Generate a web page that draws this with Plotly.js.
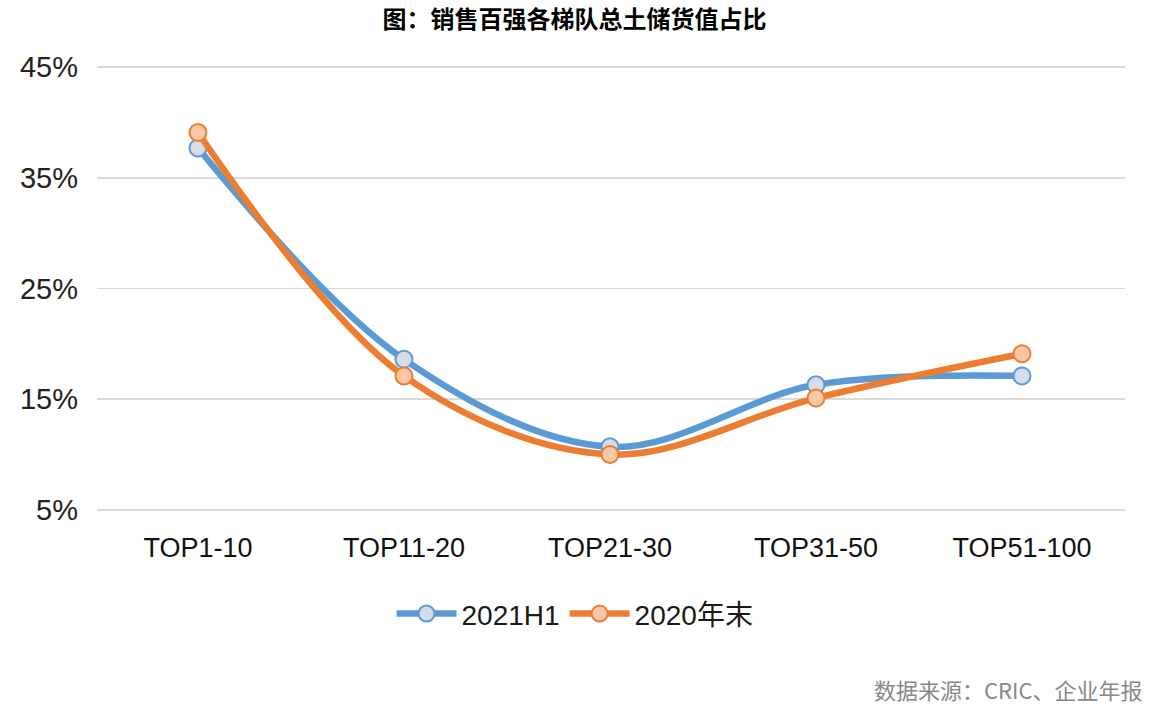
<!DOCTYPE html>
<html>
<head>
<meta charset="utf-8">
<script src="https://cdn.plot.ly/plotly-3.0.1.min.js"></script>
<style>html,body{margin:0;padding:0;background:#fff;}#chart{width:1149px;height:705px;}</style>
</head>
<body>
<div id="chart"></div>
<script>
const categories = ["TOP1-10", "TOP11-20", "TOP21-30", "TOP31-50", "TOP51-100"];
const series2021H1 = [37.7, 18.6, 10.7, 16.3, 17.1];
const series2020End = [39.1, 17.1, 10.0, 15.1, 19.1];
const yTickValues = [5, 15, 25, 35, 45];
const yTickLabels = ["5%", "15%", "25%", "35%", "45%"];

const traces = [
  {
    x: categories, y: series2021H1, name: "2021H1", type: "scatter", mode: "lines+markers",
    line: {color: "#5B9BD5", width: 6.5, shape: "spline", smoothing: 1},
    marker: {size: 17, color: "#D5DDEA", line: {color: "#5B9BD5", width: 2}}
  },
  {
    x: categories, y: series2020End, name: "2020年末", type: "scatter", mode: "lines+markers",
    line: {color: "#ED7D31", width: 6.5, shape: "spline", smoothing: 1},
    marker: {size: 17, color: "#F8C7A6", line: {color: "#ED7D31", width: 2}}
  }
];

const layout = {
  width: 1149, height: 705,
  margin: {l: 97, r: 24, t: 65, b: 193},
  paper_bgcolor: "#ffffff", plot_bgcolor: "#ffffff",
  title: {text: "<b>图：销售百强各梯队总土储货值占比</b>", x: 0.5, xanchor: "center", y: 0.972, yanchor: "middle",
    font: {family: "Noto Sans CJK SC, sans-serif", size: 24, color: "#000"}},
  showlegend: true,
  legend: {orientation: "h", x: 0.465, xanchor: "center", y: -0.172, yanchor: "top",
    font: {family: "Liberation Sans, Arial, Noto Sans CJK SC, sans-serif", size: 28, color: "#1a1a1a"},
    itemwidth: 60, tracegroupgap: 0},
  xaxis: {
    type: "category", range: [-0.49, 4.5], showgrid: false, zeroline: false,
    showline: false, ticks: "", ticklabelstandoff: 17,
    tickfont: {family: "Liberation Sans, Arial, sans-serif", size: 27, color: "#111"}
  },
  yaxis: {
    range: [4.8, 45.2], tickvals: yTickValues, ticktext: yTickLabels,
    showgrid: true, gridcolor: "#D9D9D9", gridwidth: 1.5, zeroline: false, showline: false, ticks: "",
    ticklabelstandoff: 18,
    tickfont: {family: "Liberation Sans, Arial, sans-serif", size: 29, color: "#222"}
  },
  annotations: [{
    text: "数据来源：CRIC、企业年报", xref: "paper", yref: "paper", x: 1.0195, xanchor: "right",
    y: -0.395, yanchor: "middle", showarrow: false,
    font: {family: "Noto Sans CJK SC, sans-serif", size: 22, color: "#888"}
  }]
};

Plotly.newPlot("chart", traces, layout, {displayModeBar: false, staticPlot: true});
</script>
</body>
</html>
